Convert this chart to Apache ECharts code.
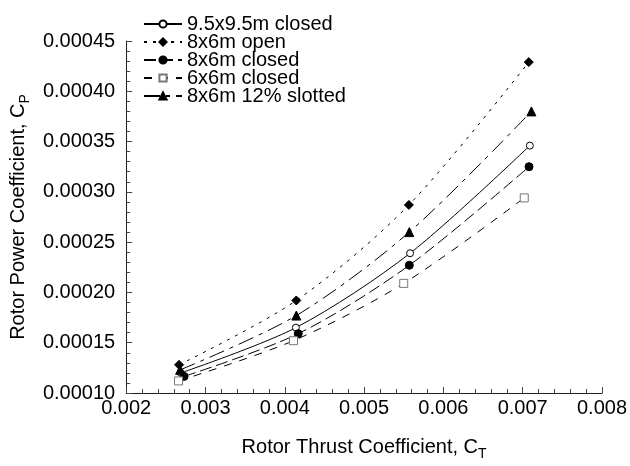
<!DOCTYPE html>
<html><head><meta charset="utf-8">
<script src="https://cdn.jsdelivr.net/npm/echarts@6/dist/echarts.min.js"></script>
<style>html,body{margin:0;padding:0;background:#fff}#c{width:630px;height:466px}</style>
</head><body><div id="c"></div>
<script>
const seriesNames = ['9.5x9.5m closed', '8x6m open', '8x6m closed', '6x6m closed', '8x6m 12% slotted'];
const ct_95closed = [0.00269, 0.00414, 0.00558, 0.00709];
const cp_95closed = [0.000120, 0.000165, 0.000239, 0.000346];
const ct_86open = [0.002667, 0.004145, 0.005565, 0.007077];
const cp_86open = [0.000128, 0.000192, 0.000287, 0.000429];
const ct_86closed = [0.00273, 0.00417, 0.00557, 0.00708];
const cp_86closed = [0.0001165, 0.000159, 0.000227, 0.000325];
const ct_66closed = [0.00266, 0.00411, 0.00550, 0.00702];
const cp_66closed = [0.000112, 0.000152, 0.000209, 0.000294];
const ct_slotted = [0.00268, 0.004145, 0.00557, 0.00711];
const cp_slotted = [0.000123, 0.000177, 0.000260, 0.000380];
const xTickLabels = ['0.002', '0.003', '0.004', '0.005', '0.006', '0.007', '0.008'];
const yTickLabels = ['0.00010', '0.00015', '0.00020', '0.00025', '0.00030', '0.00035', '0.00040', '0.00045'];

const FONT = "'Liberation Sans', Arial, sans-serif";
const pairs = (xs, ys) => xs.map((x, i) => [x, ys[i]]);

const styles = [
  { symbol: 'circle', size: 7, fill: '#fff', border: '#000', line: 'solid' },
  { symbol: 'diamond', size: 9, fill: '#000', border: '#000', line: [3, 6] },
  { symbol: 'circle', size: 8, fill: '#000', border: '#000', line: [12, 5] },
  { symbol: 'rect', size: 8, fill: '#fff', border: '#777', line: [8, 8] },
  { symbol: 'triangle', size: 9, fill: '#000', border: '#000', line: [16, 6, 4, 6] }
];
const dataSets = [
  pairs(ct_95closed, cp_95closed),
  pairs(ct_86open, cp_86open),
  pairs(ct_86closed, cp_86closed),
  pairs(ct_66closed, cp_66closed),
  pairs(ct_slotted, cp_slotted)
];

const richName = {
  n: { fontFamily: FONT, fontSize: 20, color: '#000', verticalAlign: 'top', lineHeight: 24 },
  s: { fontFamily: FONT, fontSize: 14, color: '#000', verticalAlign: 'top', lineHeight: 24, padding: [10, 0, 0, 0] }
};

const chart = echarts.init(document.getElementById('c'), null, { renderer: 'canvas' });
chart.setOption({
  animation: false,
  backgroundColor: '#fff',
  textStyle: { fontFamily: FONT },
  grid: { left: 122, right: 25, top: 41, bottom: 64, containLabel: false },
  legend: {
    orient: 'vertical', left: 143, top: 14, padding: 0, itemGap: -2,
    itemWidth: 38, itemHeight: 9,
    textStyle: { fontFamily: FONT, fontSize: 20, color: '#000', lineHeight: 18 },
    data: seriesNames
  },
  xAxis: {
    type: 'value', min: 0.002, max: 0.008, interval: 0.001,
    name: '{n|Rotor Thrust Coefficient, C}{s|T}', nameLocation: 'middle', nameGap: 44,
    nameTextStyle: { rich: richName },
    axisLine: { lineStyle: { color: '#222', width: 1 } },
    axisTick: { inside: true, length: 6, lineStyle: { color: '#444' } },
    minorTick: { show: true, splitNumber: 5, length: 4, lineStyle: { color: '#444' } },
    splitLine: { show: false },
    axisLabel: { fontFamily: FONT, fontSize: 20, color: '#000', margin: 5,
      formatter: v => xTickLabels[Math.round((v - 0.002) / 0.001)] }
  },
  yAxis: {
    type: 'value', min: 0.0001, max: 0.00045, interval: 0.00005,
    name: '{n|Rotor Power Coefficient, C}{s|P}', nameLocation: 'middle', nameGap: 89, nameRotate: 90,
    nameTextStyle: { rich: richName },
    axisLine: { show: true, lineStyle: { color: '#222', width: 1 } },
    axisTick: { show: true, inside: true, length: 6, lineStyle: { color: '#444' } },
    minorTick: { show: true, splitNumber: 5, length: 4, lineStyle: { color: '#444' } },
    splitLine: { show: false },
    axisLabel: { fontFamily: FONT, fontSize: 20, color: '#000', margin: 11,
      formatter: v => yTickLabels[Math.round((v - 0.0001) / 0.00005)] }
  },
  series: seriesNames.map((name, i) => ({
    name, type: 'line', data: dataSets[i], smooth: 0.3,
    symbol: styles[i].symbol, symbolSize: styles[i].size, showSymbol: true,
    itemStyle: { color: styles[i].fill, borderColor: styles[i].border, borderWidth: 1 },
    lineStyle: { color: '#000', width: 1, type: styles[i].line },
    z: 2
  }))
});
</script></body></html>
